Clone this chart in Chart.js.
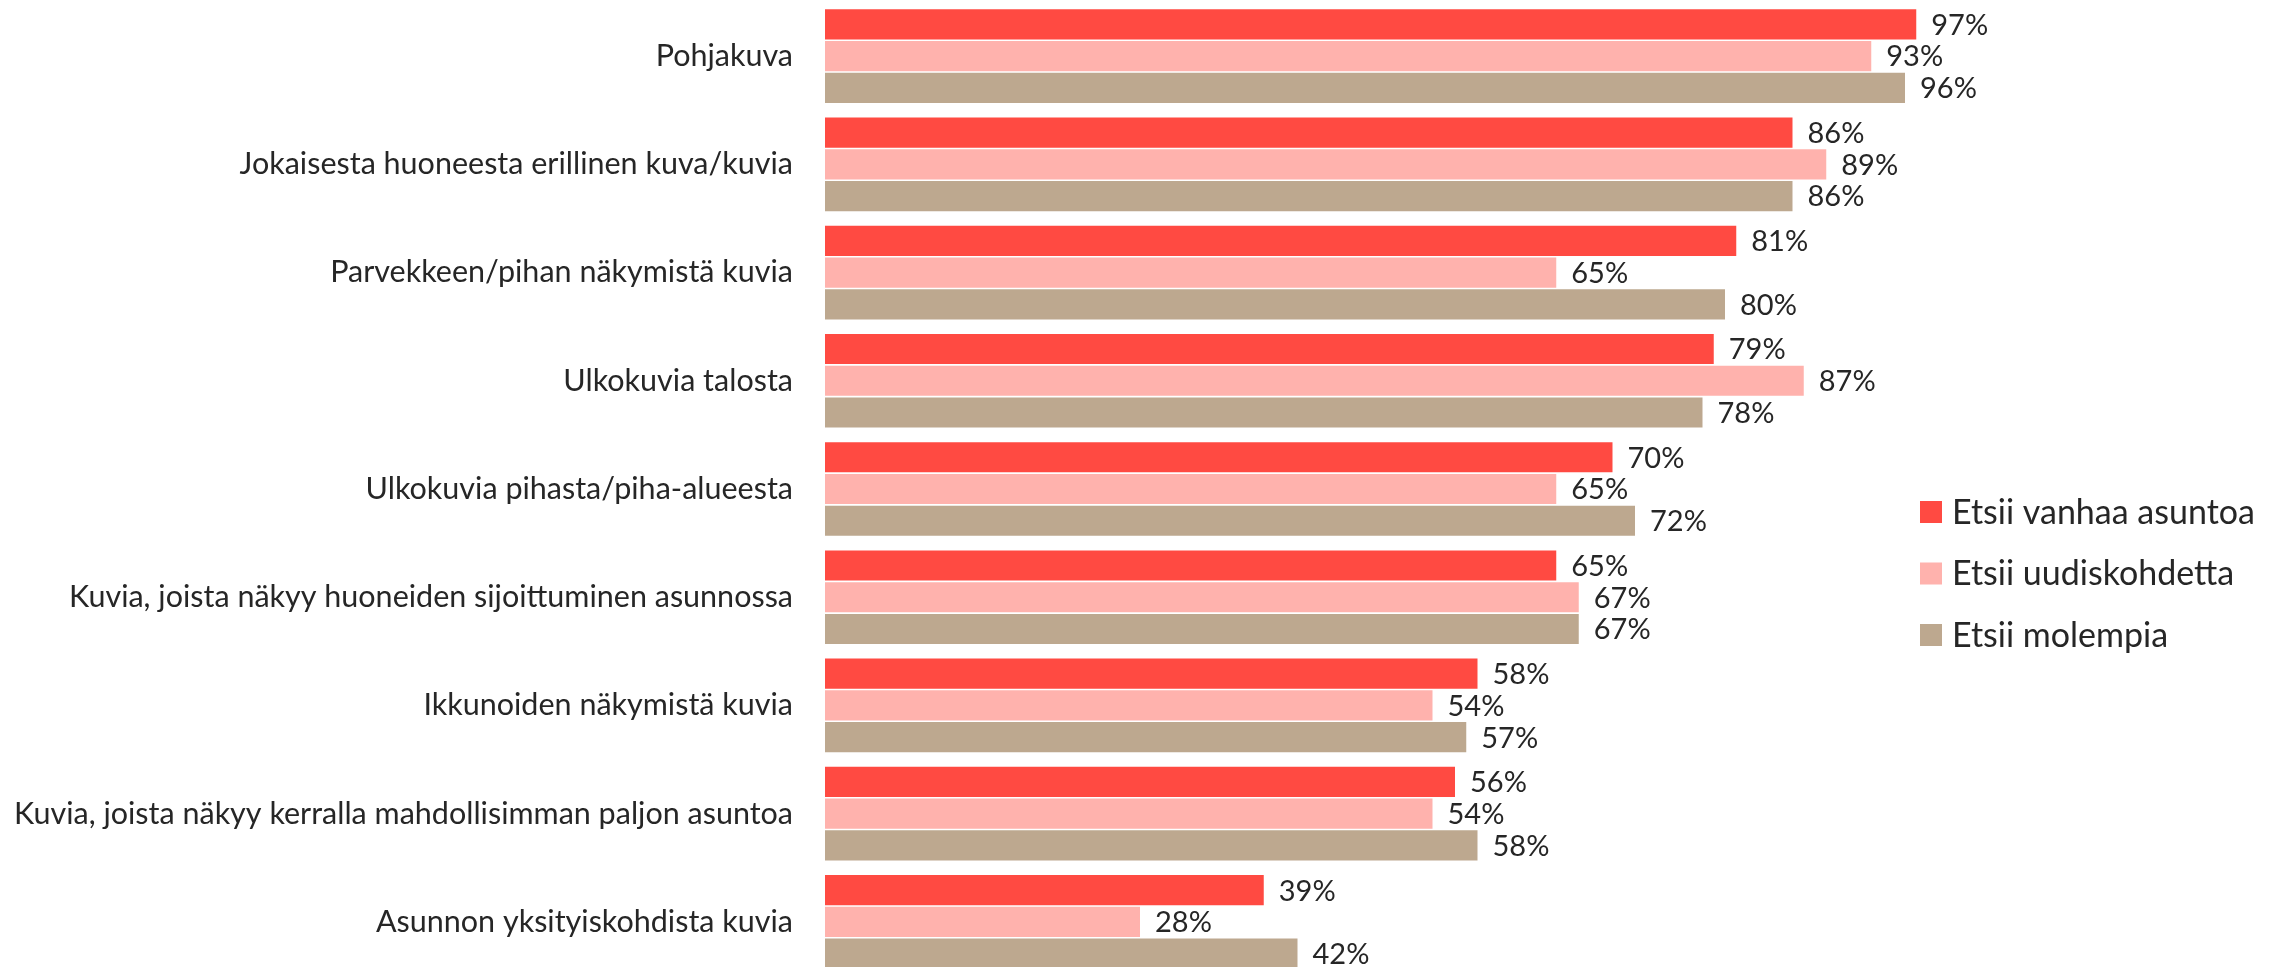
<!DOCTYPE html>
<html>
<head>
<meta charset="utf-8">
<script src="https://cdn.jsdelivr.net/npm/chart.js@4.4.0/dist/chart.umd.min.js"></script>
<style>
  html, body { margin: 0; padding: 0; background: #fff; overflow: hidden; }
  #wrap { position: relative; width: 2270px; height: 976px; }
</style>
</head>
<body>
<div id="wrap"><canvas id="chart"></canvas></div>
<script>
const categories = [
  'Pohjakuva',
  'Jokaisesta huoneesta erillinen kuva/kuvia',
  'Parvekkeen/pihan näkymistä kuvia',
  'Ulkokuvia talosta',
  'Ulkokuvia pihasta/piha-alueesta',
  'Kuvia, joista näkyy huoneiden sijoittuminen asunnossa',
  'Ikkunoiden näkymistä kuvia',
  'Kuvia, joista näkyy kerralla mahdollisimman paljon asuntoa',
  'Asunnon yksityiskohdista kuvia',
];
const seriesNames = ['Etsii vanhaa asuntoa', 'Etsii uudiskohdetta', 'Etsii molempia'];
const oldHome = [97, 86, 81, 79, 70, 65, 58, 56, 39];
const newHome = [93, 89, 65, 87, 65, 67, 54, 54, 28];
const bothHomes = [96, 86, 80, 78, 72, 67, 57, 58, 42];
const seriesColors = ['#FF4A42', '#FFB2AD', '#BDA88F'];

const FONT = 'Lato, "Open Sans", sans-serif';

// value labels to the right of each bar
const valueLabels = {
  id: 'valueLabels',
  afterDatasetsDraw(chart) {
    const ctx = chart.ctx;
    ctx.save();
    ctx.font = '29px ' + FONT;
    ctx.fillStyle = '#262626';
    ctx.textAlign = 'left';
    ctx.textBaseline = 'middle';
    chart.data.datasets.forEach((ds, i) => {
      chart.getDatasetMeta(i).data.forEach((bar, j) => {
        ctx.fillText(ds.data[j] + '%', bar.x + 15, bar.y + 1);
      });
    });
    ctx.restore();
  }
};

// legend on the right, lower than centre
const sideLegend = {
  id: 'sideLegend',
  afterDraw(chart) {
    const ctx = chart.ctx;
    const left = chart.chartArea.right - 30;
    const top = 512, step = 61.5, box = 22;
    ctx.save();
    ctx.font = '34px ' + FONT;
    ctx.textBaseline = 'middle';
    ctx.textAlign = 'left';
    chart.data.datasets.forEach((ds, i) => {
      const y = top + i * step;
      ctx.fillStyle = ds.backgroundColor;
      ctx.fillRect(left, y - box / 2, box, box);
      ctx.fillStyle = '#262626';
      ctx.fillText(ds.label, left + box + 10, y + 1);
    });
    ctx.restore();
  }
};

new Chart(document.getElementById('chart'), {
  type: 'bar',
  data: {
    labels: categories,
    datasets: [
      { label: seriesNames[0], data: oldHome, backgroundColor: seriesColors[0] },
      { label: seriesNames[1], data: newHome, backgroundColor: seriesColors[1] },
      { label: seriesNames[2], data: bothHomes, backgroundColor: seriesColors[2] },
    ],
  },
  options: {
    indexAxis: 'y',
    responsive: true,
    maintainAspectRatio: false,
    animation: false,
    categoryPercentage: 0.88,
    barPercentage: 0.95,
    layout: { padding: { top: 2, right: 320, bottom: 0, left: 0 } },
    plugins: {
      legend: { display: false },
      tooltip: { enabled: false },
    },
    scales: {
      x: {
        min: 0,
        max: 100,
        display: false,
      },
      y: {
        grid: { display: false },
        border: { display: false },
        ticks: {
          color: '#262626',
          font: { family: FONT, size: 30.5 },
          padding: 24,
        },
        afterFit(scale) {
          scale.width = 825;
          scale.paddingTop = 0;
          scale.paddingBottom = 0;
        },
      },
    },
  },
  plugins: [valueLabels, sideLegend],
});
</script>
</body>
</html>
